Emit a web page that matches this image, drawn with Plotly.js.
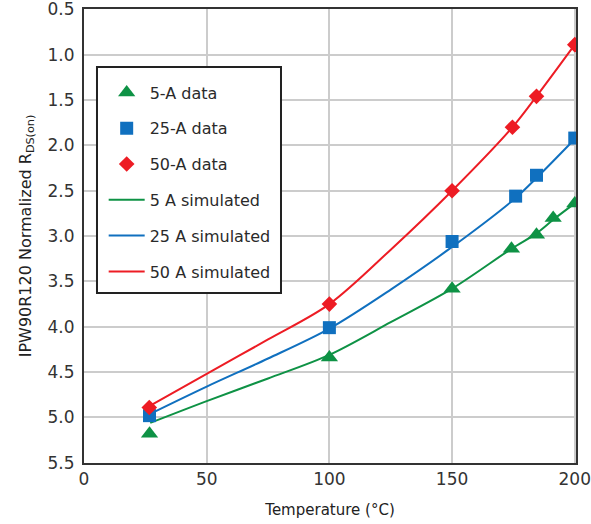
<!DOCTYPE html>
<html><head><meta charset="utf-8">
<script src="https://cdn.plot.ly/plotly-3.0.1.min.js"></script>
<style>html,body{margin:0;padding:0;background:#fff}</style>
</head><body><div id="chart" style="width:591px;height:524px"></div>
<script>
// Measured data points (temperature °C, normalized RDS(on))
const t5 = [26.7, 100, 150, 174.2, 184.4, 191.2, 200];
const r5 = [5.18, 4.34, 3.58, 3.14, 2.985, 2.80, 2.64];
const t25 = [26.7, 100, 150, 175.9, 184.4, 200];
const r25 = [4.98, 4.01, 3.06, 2.56, 2.33, 1.92];
const t50 = [26.6, 100, 150, 174.6, 184.4, 200];
const r50 = [4.89, 3.75, 2.50, 1.80, 1.46, 0.89];
// Simulated curves
const ts5 = [27, 50, 75, 100, 125, 150, 174.2, 184.4, 191.2, 200];
const rs5 = [5.06, 4.82, 4.57, 4.31, 3.95, 3.58, 3.14, 2.97, 2.82, 2.64];
const ts25 = [27, 50, 75, 100, 125, 150, 175.9, 184.4, 200];
const rs25 = [4.96, 4.66, 4.35, 4.02, 3.59, 3.12, 2.58, 2.36, 1.93];
const ts50 = [27, 50, 75, 100, 125, 150, 174.6, 184.4, 200];
const rs50 = [4.87, 4.52, 4.14, 3.75, 3.15, 2.50, 1.80, 1.46, 0.89];
const yTicks = [0.5, 1, 1.5, 2, 2.5, 3, 3.5, 4, 4.5, 5, 5.5];
const yTickText = ['0.5','1.0','1.5','2.0','2.5','3.0','3.5','4.0','4.5','5.0','5.5'];
const xTicks = [0, 50, 100, 150, 200];

const RED = '#ed1c24', BLUE = '#1070bf', GREEN = '#0e9245';

const traces = [
  {x: ts5, y: rs5, mode: 'lines', name: '5 A simulated', line: {color: GREEN, width: 2, shape: 'spline', smoothing: 0.9}, legendrank: 4, legendgroup: 'g4'},
  {x: ts25, y: rs25, mode: 'lines', name: '25 A simulated', line: {color: BLUE, width: 2, shape: 'spline', smoothing: 0.9}, legendrank: 5, legendgroup: 'g5'},
  {x: ts50, y: rs50, mode: 'lines', name: '50 A simulated', line: {color: RED, width: 2, shape: 'spline', smoothing: 0.9}, legendrank: 6, legendgroup: 'g6'},
  {x: t5, y: r5, mode: 'markers', name: '5-A data', marker: {symbol: 'triangle-up', size: 15, color: GREEN}, legendrank: 1, legendgroup: 'g1'},
  {x: t25, y: r25, mode: 'markers', name: '25-A data', marker: {symbol: 'square', size: 13, color: BLUE}, legendrank: 2, legendgroup: 'g2'},
  {x: t50, y: r50, mode: 'markers', name: '50-A data', marker: {symbol: 'diamond', size: 12, color: RED}, legendrank: 3, legendgroup: 'g3'}
];

const FONT = '"DejaVu Sans", sans-serif';
const layout = {
  width: 591, height: 524,
  margin: {l: 84, r: 15, t: 9, b: 61},
  paper_bgcolor: '#fff', plot_bgcolor: '#fff',
  font: {family: FONT, size: 16, color: '#333'},
  showlegend: true,
  legend: {
    x: 0.04, y: 0.8535, xanchor: 'left', yanchor: 'top',
    bgcolor: 'rgba(0,0,0,0)', borderwidth: 0,
    traceorder: 'grouped', tracegroupgap: 12, itemwidth: 36,
    font: {family: FONT, size: 16, color: '#2a2a2a'}
  },
  shapes: [{
    type: 'rect', xref: 'paper', yref: 'paper', layer: 'above',
    x0: 0.0264, x1: 0.4004, y0: 0.3744, y1: 0.8722,
    fillcolor: '#fff', line: {color: '#222', width: 2}
  }],
  xaxis: {
    range: [0, 200.5], tickvals: xTicks,
    showgrid: true, gridcolor: '#cccccc', gridwidth: 2,
    showline: true, linecolor: '#333', linewidth: 2, mirror: true,
    zeroline: false, ticks: '',
    tickfont: {size: 17, color: '#333'},
    title: {text: 'Temperature (°C)', font: {size: 15, color: '#222'}, standoff: 16}
  },
  yaxis: {
    range: [5.502, 0.497], tickvals: yTicks, ticktext: yTickText,
    showgrid: true, gridcolor: '#cccccc', gridwidth: 2,
    showline: true, linecolor: '#333', linewidth: 2, mirror: true,
    zeroline: false, ticks: '', ticklabelstandoff: 4, ticklabeloverflow: 'allow',
    tickfont: {size: 17, color: '#333'},
    title: {text: 'IPW90R120 Normalized R<sub>DS(on)</sub>', font: {size: 16, color: '#222'}, standoff: 12}
  }
};

Plotly.newPlot('chart', traces, layout, {displayModeBar: false, staticPlot: true});
</script></body></html>
